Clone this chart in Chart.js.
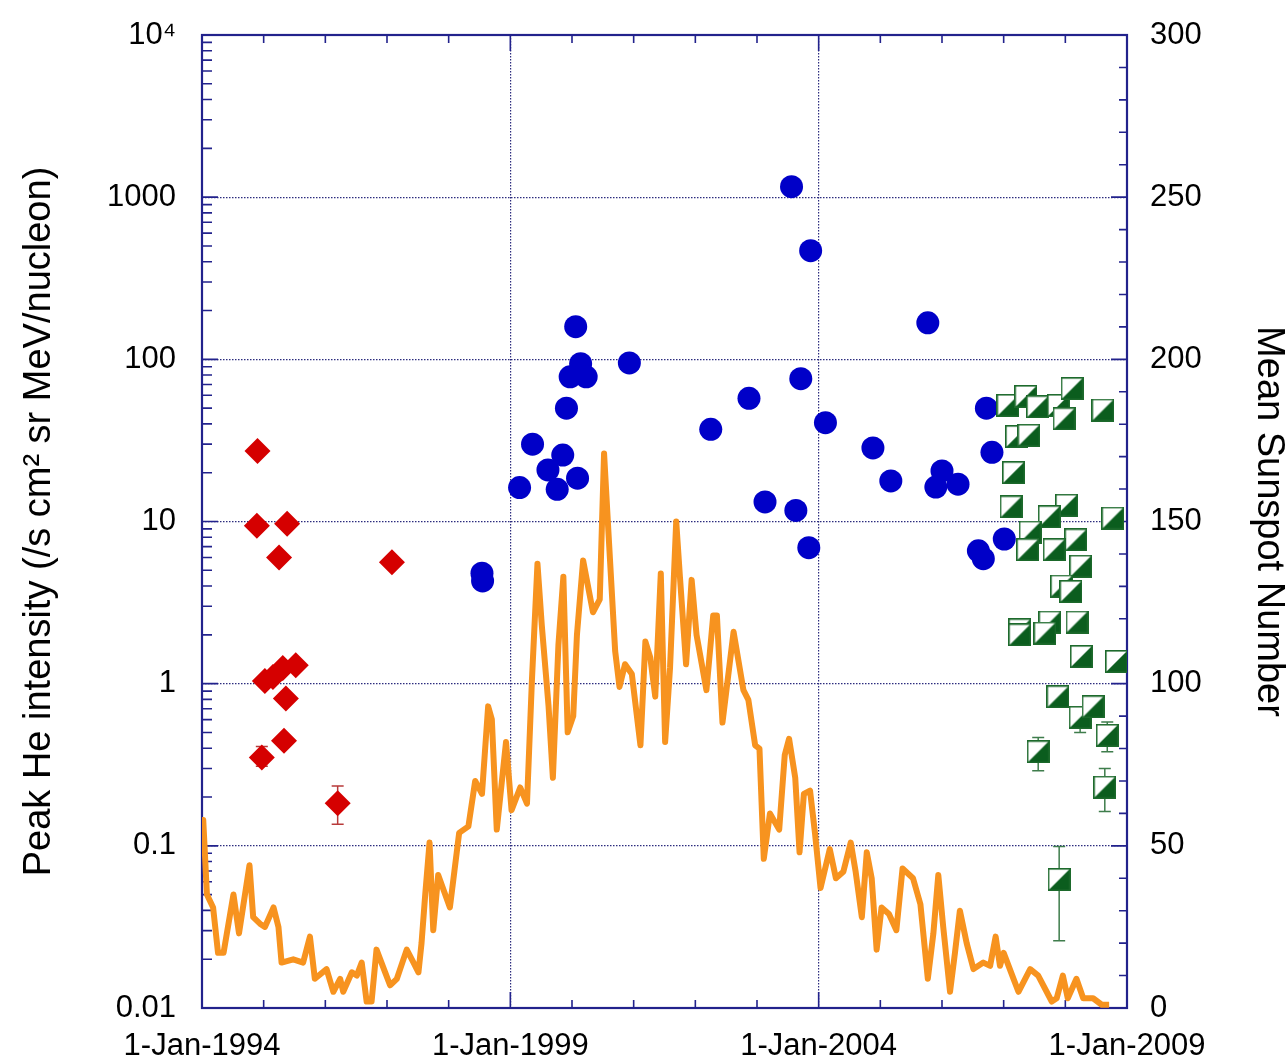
<!DOCTYPE html>
<html>
<head>
<meta charset="utf-8">
<script src="https://cdn.jsdelivr.net/npm/chart.js@4.4.1/dist/chart.umd.min.js"></script>
<style>
  html, body { margin: 0; padding: 0; background: #fff; }
</style>
</head>
<body>
<canvas id="chart" width="1288" height="1060"></canvas>
<script>
// monthly mean sunspot number
const sunspotYears = [1994.00, 1994.02, 1994.08, 1994.18, 1994.26, 1994.35, 1994.51, 1994.60, 1994.77, 1994.83,
    1994.94, 1995.02, 1995.16, 1995.24, 1995.29, 1995.48, 1995.64, 1995.75, 1995.83, 1996.02,
    1996.13, 1996.24, 1996.29, 1996.43, 1996.51, 1996.59, 1996.67, 1996.75, 1996.83, 1996.97,
    1997.05, 1997.16, 1997.32, 1997.43, 1997.51, 1997.56, 1997.62, 1997.69, 1997.75, 1997.83,
    1998.02, 1998.17, 1998.32, 1998.43, 1998.54, 1998.64, 1998.70, 1998.78, 1998.93, 1999.02,
    1999.16, 1999.27, 1999.35, 1999.44, 1999.51, 1999.62, 1999.69, 1999.78, 1999.86, 1999.93,
    2000.02, 2000.08, 2000.18, 2000.34, 2000.45, 2000.52, 2000.59, 2000.70, 2000.77, 2000.86,
    2000.97, 2001.11, 2001.19, 2001.27, 2001.35, 2001.44, 2001.51, 2001.59, 2001.69, 2001.75,
    2001.85, 2001.94, 2002.02, 2002.18, 2002.29, 2002.35, 2002.44, 2002.62, 2002.78, 2002.86,
    2002.97, 2003.04, 2003.11, 2003.21, 2003.36, 2003.45, 2003.52, 2003.62, 2003.69, 2003.76,
    2003.86, 2003.94, 2004.03, 2004.18, 2004.28, 2004.40, 2004.52, 2004.60, 2004.70, 2004.78,
    2004.86, 2004.94, 2005.02, 2005.14, 2005.26, 2005.36, 2005.53, 2005.65, 2005.77, 2005.86,
    2005.94, 2006.02, 2006.13, 2006.21, 2006.29, 2006.40, 2006.51, 2006.67, 2006.78, 2006.87,
    2006.94, 2007.00, 2007.16, 2007.24, 2007.43, 2007.56, 2007.78, 2007.86, 2007.96, 2008.04,
    2008.18, 2008.29, 2008.45, 2008.59, 2008.71];
const sunspotValues = [52, 58, 35, 31, 17, 17, 35, 23, 44, 28,
    26, 25, 31, 25, 14, 15, 14, 22, 9, 12,
    5, 9, 5, 11, 10, 14, 2, 2, 18, 11,
    7, 9, 18, 14, 11, 20, 35, 51, 24, 41,
    31, 54, 56, 70, 66, 93, 89, 55, 82, 61,
    68, 63, 101, 137, 118, 93, 71, 112, 133, 85,
    90, 115, 138, 122, 126, 171, 147, 110, 99, 106,
    103, 81, 113, 108, 96, 134, 82, 105, 150, 133,
    106, 132, 115, 98, 121, 121, 88, 116, 98, 95,
    81, 80, 46, 60, 55, 78, 83, 71, 48, 66,
    67, 54, 37, 49, 40, 42, 51, 42, 28, 48,
    40, 18, 31, 29, 24, 43, 40, 32, 9, 23,
    41, 25, 5, 17, 30, 20, 12, 14, 13, 22,
    13, 17, 9, 5, 12, 10, 2, 3, 10, 3,
    9, 3, 3, 1, 1];

// red diamonds
const redYears = [1994.90, 1994.89, 1995.38, 1995.25, 1997.08, 1995.02, 1995.15, 1995.31, 1995.52, 1995.36, 1995.33, 1994.97, 1996.20];
const redPeak = [27.2, 9.4, 9.7, 6.0, 5.6, 1.04, 1.1, 1.25, 1.3, 0.81, 0.445, 0.35, 0.183];
const redErrLow = [null, null, null, null, null, null, null, null, null, null, 0.41, 0.31, 0.136];
const redErrHigh = [null, null, null, null, null, null, null, null, null, null, 0.48, 0.41, 0.234];

// blue circles
const blueYears = [2003.56, 2003.87, 2000.06, 2000.14, 1999.97, 2000.23, 2000.93, 1999.91, 1999.36, 1999.85,
    1999.61, 2000.09, 1999.76, 1999.15, 2002.25, 2002.87, 2003.71, 2004.11, 2003.13, 2003.63,
    2003.84, 1998.54, 1998.55, 2004.88, 2005.17, 2005.77, 2005.90, 2006.00, 2006.26, 2006.59,
    2006.67, 2006.72, 2006.81, 2007.01];
const bluePeak = [1160, 468, 159, 94, 78, 78, 95, 50, 30, 25.7,
    20.8, 18.5, 15.8, 16.2, 37, 57.5, 76, 40.7, 13.2, 11.7,
    6.9, 4.8, 4.3, 28.4, 17.8, 168, 16.3, 20.5, 17.0, 6.6,
    5.9, 50, 26.7, 7.8];

// green half-filled squares
const greenYears = [2007.07, 2007.36, 2007.55, 2007.89, 2007.98, 2008.11, 2008.61, 2007.21, 2007.41, 2007.16,
    2007.12, 2008.02, 2007.74, 2008.77, 2007.43, 2008.17, 2007.39, 2007.82, 2008.25, 2007.94,
    2008.09, 2007.75, 2007.26, 2007.26, 2007.67, 2008.19, 2008.26, 2008.83, 2007.88, 2008.24,
    2008.45, 2008.68, 2007.56, 2008.64, 2007.90];
const greenPeak = [52, 59, 51, 52, 43, 66, 48.7, 33.4, 34, 20,
    12.3, 12.6, 10.7, 10.5, 8.6, 7.7, 6.7, 6.7, 5.3, 4.0,
    3.7, 2.4, 2.15, 2.0, 2.05, 2.4, 1.47, 1.37, 0.83, 0.62,
    0.72, 0.48, 0.38, 0.23, 0.062];
const greenErrLow = Array(29).fill(null).concat([0.5, null, 0.38, 0.29, 0.163, 0.026]);
const greenErrHigh = Array(29).fill(null).concat([null, null, 0.58, 0.465, 0.30, 0.099]);

// axis ticks
const xTickYears = [1994, 1999, 2004, 2009];
const xTickLabels = ['1-Jan-1994', '1-Jan-1999', '1-Jan-2004', '1-Jan-2009'];
const yTickValues = [0.01, 0.1, 1, 10, 100, 1000, 10000];
const yTickLabels = ['0.01', '0.1', '1', '10', '100', '1000', '10\u2074'];
const rightTickValues = [0, 50, 100, 150, 200, 250, 300];

const axisColor = '#22228c';
const gridColor = '#2c2c7e';
const fontFamily = "'Liberation Sans', Arial, sans-serif";

const toPoints = (xs, ys) => xs.map((x, i) => ({ x, y: ys[i] }));

// marker: square, white upper-left half, green lower-right half
const makeHalfSquare = function () {
    const size = 23;
    const c = document.createElement('canvas');
    c.width = size;
    c.height = size;
    const g = c.getContext('2d');
    g.fillStyle = '#ffffff';
    g.fillRect(0, 0, size, size);
    g.fillStyle = '#0b5d1e';
    g.beginPath();
    g.moveTo(1, size - 1);
    g.lineTo(size - 1, 1);
    g.lineTo(size - 1, size - 1);
    g.closePath();
    g.fill();
    g.strokeStyle = '#1d6a2c';
    g.lineWidth = 1.6;
    g.strokeRect(0.8, 0.8, size - 1.6, size - 1.6);
    return c;
};

// frame with inward tick marks
const frameTicks = {
    id: 'frameTicks',
    beforeDatasetsDraw(chart) {
        const { ctx, chartArea: a, scales } = chart;
        ctx.save();
        ctx.strokeStyle = axisColor;
        ctx.lineWidth = 1.6;
        ctx.beginPath();
        for (let yr = 1995; yr < 2009; yr += 1) {
            const px = scales.x.getPixelForValue(yr);
            const len = xTickYears.includes(yr) ? 16 : 8;
            ctx.moveTo(px, a.bottom);
            ctx.lineTo(px, a.bottom - len);
            ctx.moveTo(px, a.top);
            ctx.lineTo(px, a.top + len);
        }
        for (let e = -2; e < 4; e += 1) {
            for (let k = 1; k < 10; k += 1) {
                const py = scales.y.getPixelForValue(k * Math.pow(10, e));
                const len = k === 1 ? 16 : 10;
                ctx.moveTo(a.left, py);
                ctx.lineTo(a.left + len, py);
            }
        }
        for (let v = 10; v < 300; v += 10) {
            const py = scales.y1.getPixelForValue(v);
            const len = v % 50 === 0 ? 16 : 8;
            ctx.moveTo(a.right, py);
            ctx.lineTo(a.right - len, py);
        }
        ctx.stroke();
        ctx.lineWidth = 2.2;
        ctx.strokeRect(a.left, a.top, a.right - a.left, a.bottom - a.top);
        ctx.restore();
    }
};

// vertical error bars, drawn just before the markers of their dataset
const errorBars = {
    id: 'errorBars',
    beforeDatasetDraw(chart, args) {
        const ds = chart.data.datasets[args.index];
        if (!ds.errLow) {
            return;
        }
        const { ctx } = chart;
        const xs = chart.scales.x;
        const ys = chart.scales.y;
        ctx.save();
        ctx.strokeStyle = ds.errColor;
        ctx.lineWidth = 1.5;
        ctx.beginPath();
        ds.data.forEach((p, i) => {
            const lo = ds.errLow[i];
            const hi = ds.errHigh[i];
            if (lo === null && hi === null) {
                return;
            }
            const px = xs.getPixelForValue(p.x);
            const y0 = ys.getPixelForValue(lo === null ? p.y : lo);
            const y1 = ys.getPixelForValue(hi === null ? p.y : hi);
            ctx.moveTo(px, y0);
            ctx.lineTo(px, y1);
            if (lo !== null) {
                ctx.moveTo(px - 6, y0);
                ctx.lineTo(px + 6, y0);
            }
            if (hi !== null) {
                ctx.moveTo(px - 6, y1);
                ctx.lineTo(px + 6, y1);
            }
        });
        ctx.stroke();
        ctx.restore();
    }
};

const tickFont = { family: fontFamily, size: 31 };
const titleFont = { family: fontFamily, size: 38, lineHeight: 1 };

// vertical scales: fixed width, and no label overhang pushing the plot down
const fixVertical = width => s => {
    s.width = width;
    s.paddingTop = 0;
    s.paddingBottom = 0;
};

new Chart(document.getElementById('chart'), {
    type: 'scatter',
    data: {
        datasets: [
            {
                label: 'Sunspots',
                data: toPoints(sunspotYears, sunspotValues),
                yAxisID: 'y1',
                showLine: true,
                borderColor: '#f7931f',
                borderWidth: 6,
                borderJoinStyle: 'round',
                pointRadius: 0,
                order: 10
            },
            {
                label: 'Red',
                data: toPoints(redYears, redPeak),
                yAxisID: 'y',
                pointStyle: 'rectRot',
                pointRadius: 13,
                backgroundColor: '#d50000',
                borderWidth: 0,
                errLow: redErrLow,
                errHigh: redErrHigh,
                errColor: '#b83a3a',
                order: 3
            },
            {
                label: 'Blue',
                data: toPoints(blueYears, bluePeak),
                yAxisID: 'y',
                pointStyle: 'circle',
                pointRadius: 11.5,
                backgroundColor: '#0000c8',
                borderWidth: 0,
                order: 2
            },
            {
                label: 'Green',
                data: toPoints(greenYears, greenPeak),
                yAxisID: 'y',
                pointStyle: makeHalfSquare(),
                pointRadius: 12,
                errLow: greenErrLow,
                errHigh: greenErrHigh,
                errColor: '#3f7d4c',
                order: 1
            }
        ]
    },
    options: {
        responsive: false,
        animation: false,
        devicePixelRatio: 1,
        layout: { padding: { top: 35, left: 0, right: 0, bottom: 0 } },
        plugins: {
            legend: { display: false },
            tooltip: { enabled: false }
        },
        scales: {
            x: {
                type: 'linear',
                position: 'bottom',
                min: 1994,
                max: 2009,
                afterBuildTicks: s => { s.ticks = xTickYears.map(v => ({ value: v })); },
                afterFit: s => { s.height = 52; },
                ticks: {
                    autoSkip: false,
                    maxRotation: 0,
                    padding: 20,
                    color: '#000',
                    font: tickFont,
                    callback: (v, i) => xTickLabels[i]
                },
                grid: {
                    drawTicks: false,
                    lineWidth: 1.2,
                    color: c => (c.tick && c.tick.value > 1994 && c.tick.value < 2009) ? gridColor : 'rgba(0,0,0,0)'
                },
                border: { display: false, dash: [1.5, 1.5] }
            },
            y: {
                type: 'logarithmic',
                position: 'left',
                min: 0.01,
                max: 10000,
                afterBuildTicks: s => { s.ticks = yTickValues.map(v => ({ value: v })); },
                afterFit: fixVertical(202),
                ticks: {
                    padding: 26,
                    color: '#000',
                    font: tickFont,
                    callback: (v, i) => yTickLabels[i]
                },
                grid: {
                    drawTicks: false,
                    lineWidth: 1.2,
                    color: c => (c.tick && c.tick.value > 0.011 && c.tick.value < 9000) ? gridColor : 'rgba(0,0,0,0)'
                },
                border: { display: false, dash: [1.5, 1.5] },
                title: {
                    display: true,
                    text: 'Peak He intensity (/s cm\u00b2 sr MeV/nucleon)',
                    color: '#000',
                    font: titleFont,
                    padding: { top: 21, bottom: 0 }
                }
            },
            y1: {
                type: 'linear',
                position: 'right',
                min: 0,
                max: 300,
                afterBuildTicks: s => { s.ticks = rightTickValues.map(v => ({ value: v })); },
                afterFit: fixVertical(161),
                ticks: {
                    padding: 23,
                    color: '#000',
                    font: tickFont,
                    callback: v => String(v)
                },
                grid: { drawOnChartArea: false, drawTicks: false },
                border: { display: false },
                title: {
                    display: true,
                    text: 'Mean Sunspot Number',
                    color: '#000',
                    font: titleFont,
                    padding: { top: 1, bottom: 0 }
                }
            }
        }
    },
    plugins: [frameTicks, errorBars]
});
</script>
</body>
</html>
